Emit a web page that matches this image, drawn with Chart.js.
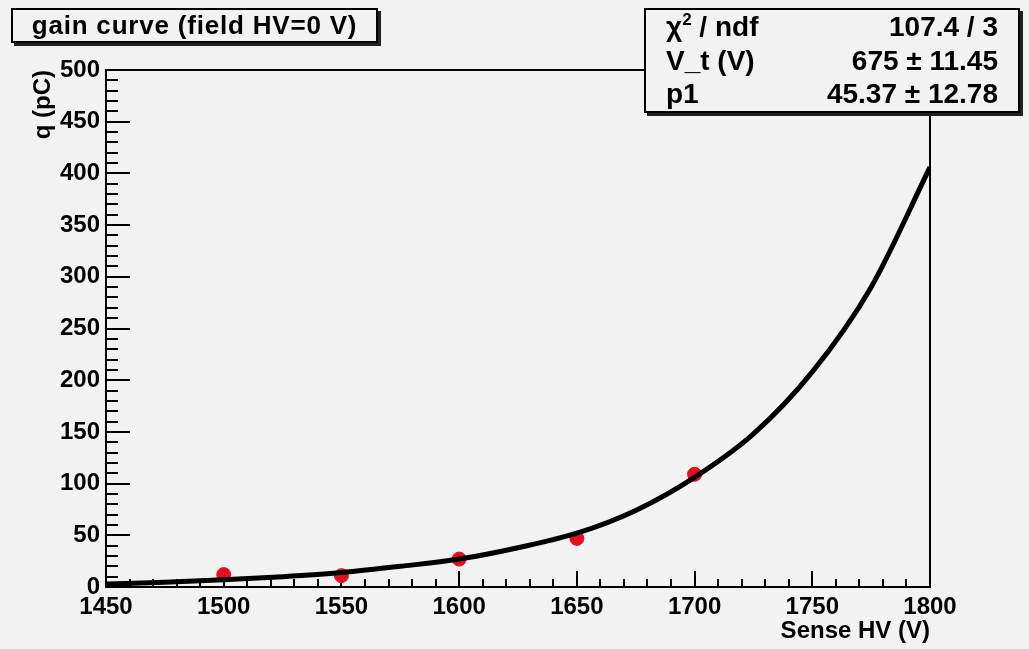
<!DOCTYPE html>
<html>
<head>
<meta charset="utf-8">
<title>gain curve (field HV=0 V)</title>
<script src="https://cdn.jsdelivr.net/npm/chart.js@4.4.0/dist/chart.umd.min.js"></script>
<style>
  body { margin: 0; background: #f2f2f2; }
  #wrap { position: relative; width: 1029px; height: 649px; background: #f2f2f2;
          font-family: "Liberation Sans", Arial, sans-serif; font-weight: bold; color: #000; }
  .box { position: absolute; background: #f2f2f2; border: 2px solid #000; box-sizing: border-box;
         box-shadow: 3px 3px 0 #222; }
  #title { left: 11px; top: 8px; width: 367px; height: 35px; font-size: 26px; letter-spacing: 0.8px;
           line-height: 31px; text-align: center; }
  #stats { left: 644px; top: 8px; width: 376px; height: 105px; font-size: 28px; padding: 0 20px; }
  #stats .row { display: flex; justify-content: space-between; height: 33.7px; line-height: 33.7px; }
  #stats sup { font-size: 17px; line-height: 0; vertical-align: 11px; }
</style>
</head>
<body>
<div id="wrap">
  <canvas id="chart" width="1029" height="649"></canvas>
  <div class="box" id="title">gain curve (field HV=0 V)</div>
  <div class="box" id="stats">
    <div class="row"><span>&chi;<sup>2</sup> / ndf</span><span>107.4 / 3</span></div>
    <div class="row"><span>V_t (V)</span><span>675 &plusmn; 11.45</span></div>
    <div class="row"><span>p1</span><span>45.37 &plusmn; 12.78</span></div>
  </div>
</div>
<script>
// data points (Sense HV in V, charge in pC)
const hv = [1500, 1550, 1600, 1650, 1700];
const charge = [12, 11, 27, 47, 109];

// fitted curve
const fitHv = [1450, 1475, 1500, 1525, 1550, 1575, 1600, 1625, 1650, 1675, 1700, 1725, 1750, 1775, 1800];
const fitQ = [3, 4.5, 7, 10, 14, 20, 27, 38, 52, 74, 106, 148, 208, 290, 406];

// tick labels
const xTicks = [1450, 1500, 1550, 1600, 1650, 1700, 1750, 1800];
const yTicks = [0, 50, 100, 150, 200, 250, 300, 350, 400, 450, 500];

const fontFam = '"Liberation Sans", Arial, sans-serif';

// ROOT-like frame with inward ticks
const rootFrame = {
  id: 'rootFrame',
  beforeDatasetsDraw(chart) {
    const { ctx, chartArea: a, scales: { x, y } } = chart;
    ctx.save();
    ctx.strokeStyle = '#000';
    ctx.lineWidth = 2;
    ctx.strokeRect(a.left, a.top, a.right - a.left, a.bottom - a.top);
    ctx.beginPath();
    // x axis ticks
    for (let i = 0; i < xTicks.length - 1; i++) {
      const step = (xTicks[i + 1] - xTicks[i]) / 5;
      for (let j = 0; j < 5; j++) {
        const px = Math.round(x.getPixelForValue(xTicks[i] + j * step));
        const len = j === 0 ? 16 : 8;
        ctx.moveTo(px, a.bottom);
        ctx.lineTo(px, a.bottom - len);
      }
    }
    // y axis ticks
    for (let i = 0; i < yTicks.length - 1; i++) {
      const step = (yTicks[i + 1] - yTicks[i]) / 5;
      for (let j = 0; j < 5; j++) {
        const py = Math.round(y.getPixelForValue(yTicks[i] + j * step));
        const len = j === 0 ? 24 : 12;
        ctx.moveTo(a.left, py);
        ctx.lineTo(a.left + len, py);
      }
    }
    ctx.stroke();
    ctx.restore();
  }
};

const ctx = document.getElementById('chart').getContext('2d');
new Chart(ctx, {
  type: 'scatter',
  data: {
    datasets: [
      {
        label: 'data',
        data: hv.map((v, i) => ({ x: v, y: charge[i] })),
        backgroundColor: '#e3101e',
        borderColor: '#e3101e',
        pointRadius: 7,
        pointHoverRadius: 7,
        order: 2
      },
      {
        label: 'fit',
        data: fitHv.map((v, i) => ({ x: v, y: fitQ[i] })),
        showLine: true,
        borderColor: '#000',
        borderWidth: 5,
        pointRadius: 0,
        cubicInterpolationMode: 'monotone',
        order: 1
      }
    ]
  },
  options: {
    responsive: false,
    animation: false,
    layout: { padding: { top: 70, right: 99, left: 0, bottom: 0 } },
    plugins: { legend: { display: false }, tooltip: { enabled: false }, title: { display: false } },
    scales: {
      x: {
        type: 'linear',
        min: 1450, max: 1800,
        afterBuildTicks: s => { s.ticks = xTicks.map(v => ({ value: v })); },
        afterFit: s => { s.height = 62; },
        grid: { display: false, drawTicks: false, tickLength: 0 },
        border: { display: false },
        ticks: { color: '#000', padding: 6, maxRotation: 0, callback: v => String(v),
                 font: { family: fontFam, size: 24, weight: 'bold' } },
        title: { display: true, text: 'Sense HV (V)', align: 'end', color: '#000',
                 padding: { top: 0, bottom: 3 }, font: { family: fontFam, size: 24, weight: 'bold' } }
      },
      y: {
        min: 0, max: 500,
        afterBuildTicks: s => { s.ticks = yTicks.map(v => ({ value: v })); },
        afterFit: s => { s.width = 106; },
        grid: { display: false, drawTicks: false, tickLength: 0 },
        border: { display: false },
        ticks: { color: '#000', padding: 6, font: { family: fontFam, size: 24, weight: 'bold' } },
        title: { display: true, text: 'q (pC)', align: 'end', color: '#000',
                 padding: { top: 29, bottom: 0 }, font: { family: fontFam, size: 24, weight: 'bold' } }
      }
    }
  },
  plugins: [rootFrame]
});
</script>
</body>
</html>
